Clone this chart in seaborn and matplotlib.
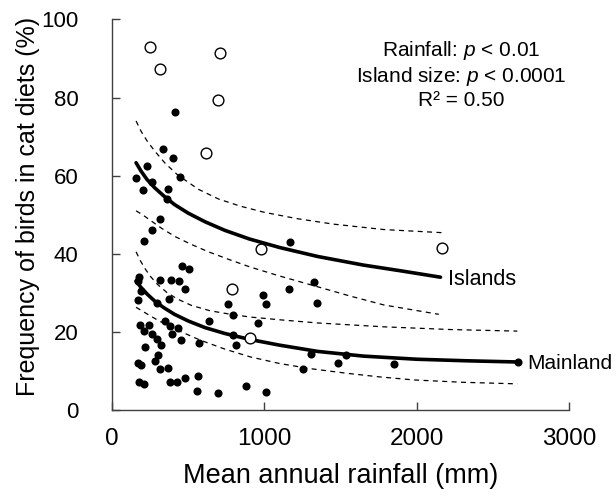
import pandas as pd
import seaborn as sns
import matplotlib.pyplot as plt

# points
mainland_x = [412, 333, 399, 228, 158, 445, 261, 204, 366, 364, 318, 261, 210, 1167,
              458, 506, 180, 169, 318, 390, 442, 480, 191, 1163, 990, 173, 375, 298,
              1010, 762, 797, 635, 959, 348, 186, 241, 381, 432, 210, 265, 392, 293,
              453, 322, 569, 797, 815, 217, 304, 283, 169, 193, 313, 370, 565, 477,
              381, 427, 177, 212, 558, 694, 878, 1012, 1327, 1345, 1305, 1535, 1485,
              1848, 1250, 2663]
mainland_y = [76.2, 66.8, 64.5, 62.5, 59.5, 59.6, 58.4, 56.2, 56.6, 53.9, 48.9, 46.1,
              43.2, 43.0, 36.8, 36.0, 34.1, 33.0, 33.4, 33.4, 33.1, 31.1, 30.5, 31.1,
              29.5, 28.2, 28.4, 27.4, 27.1, 27.1, 24.2, 22.9, 22.3, 22.7, 21.8, 21.8,
              21.6, 21.1, 20.2, 19.5, 19.5, 18.3, 17.8, 16.7, 17.2, 19.3, 16.6, 16.1,
              14.2, 12.6, 12.1, 11.5, 10.6, 10.8, 8.6, 8.3, 7.2, 7.1, 7.3, 6.7, 4.9,
              4.3, 6.1, 4.5, 32.8, 27.3, 14.3, 14.0, 12.1, 11.8, 10.6, 12.4]

island_x = [250, 709, 315, 697, 618, 975, 788, 907, 2162]
island_y = [92.9, 91.5, 87.2, 79.3, 65.7, 41.2, 31.1, 18.4, 41.5]

# fitted curves and confidence bands
isl_fit_x = [158, 190, 230, 280, 340, 410, 500, 610, 740, 900, 1100, 1350, 1650, 1900, 2155]
isl_fit_y = [63.3, 61.2, 59.0, 56.9, 54.8, 52.6, 50.4, 48.2, 46.0, 43.8, 41.6, 39.3, 37.1, 35.6, 34.0]
isl_hi_x = [158, 190, 230, 280, 348, 430, 567, 700, 841, 1000, 1213, 1450, 1783, 2166]
isl_hi_y = [74.0, 71.4, 68.9, 66.3, 63.2, 60.2, 56.5, 54.0, 52.2, 50.6, 49.0, 47.6, 46.2, 45.4]
isl_lo_x = [158, 200, 261, 330, 414, 520, 633, 770, 907, 1100, 1345, 1560, 1783, 2144]
isl_lo_y = [51.0, 50.0, 48.3, 46.4, 44.4, 42.4, 40.5, 38.5, 36.6, 34.3, 31.6, 29.2, 26.9, 24.5]

main_fit_x = [158, 190, 230, 280, 340, 410, 500, 610, 740, 900, 1100, 1350, 1650, 2000, 2330, 2659]
main_fit_y = [33.0, 31.4, 29.7, 27.9, 26.2, 24.5, 22.8, 21.1, 19.6, 18.1, 16.6, 15.0, 13.8, 13.0, 12.6, 12.3]
main_hi_x = [158, 185, 215, 250, 300, 360, 425, 520, 644, 780, 907, 1100, 1345, 1783, 2221, 2659]
main_hi_y = [40.5, 38.3, 36.3, 34.3, 32.1, 30.1, 28.5, 26.8, 25.4, 24.5, 23.8, 23.1, 22.3, 21.3, 20.6, 20.2]
main_lo_x = [158, 230, 300, 359, 450, 578, 740, 907, 1100, 1300, 1542, 1750, 1980, 2300, 2659]
main_lo_y = [26.3, 24.6, 23.0, 21.8, 20.1, 17.9, 15.6, 13.6, 11.9, 10.6, 9.4, 8.5, 7.7, 7.1, 6.7]

x_ticks = [0, 1000, 2000, 3000]
y_ticks = [0, 20, 40, 60, 80, 100]

sns.set_style('ticks')
plt.rcParams['font.family'] = ['Liberation Sans', 'DejaVu Sans']
plt.rcParams['mathtext.fontset'] = 'custom'
plt.rcParams['mathtext.rm'] = 'Liberation Sans'
plt.rcParams['mathtext.it'] = 'Liberation Sans:italic'
plt.rcParams['text.color'] = 'black'
plt.rcParams['axes.labelcolor'] = 'black'

fig = plt.figure(figsize=(6.16, 4.97), dpi=100)
ax = fig.add_axes([0.1818, 0.175, 0.7424, 0.786])

for bx, by in [(isl_hi_x, isl_hi_y), (isl_lo_x, isl_lo_y),
               (main_hi_x, main_hi_y), (main_lo_x, main_lo_y)]:
    sns.lineplot(x=bx, y=by, color='black', lw=0.9, linestyle=(0, (4, 3.5)),
                 estimator=None, sort=False, ax=ax)

for fx, fy in [(isl_fit_x, isl_fit_y), (main_fit_x, main_fit_y)]:
    sns.lineplot(x=fx, y=fy, color='black', lw=2.6, solid_capstyle='round',
                 solid_joinstyle='round', estimator=None, sort=False, ax=ax)

sns.scatterplot(x=mainland_x, y=mainland_y, color='black', s=34, linewidth=0,
                zorder=3, ax=ax)
sns.scatterplot(x=island_x, y=island_y, color='white', edgecolor='black', s=60,
                linewidth=1, zorder=3, ax=ax)

ax.set_xlim(0, 3000)
ax.set_ylim(0, 100)
ax.set_xticks(x_ticks)
ax.set_yticks(y_ticks)
sns.despine(ax=ax)
for sp in ['left', 'bottom']:
    ax.spines[sp].set_color('#404040')
    ax.spines[sp].set_linewidth(1)
ax.tick_params(direction='in', length=6, width=1, color='#404040', labelcolor='black')
ax.tick_params(axis='x', pad=13, labelsize=17.5)
ax.tick_params(axis='y', pad=24, labelsize=16)

ax.set_xlabel('Mean annual rainfall (mm)', fontsize=19.5, labelpad=9)
ax.set_ylabel('Frequency of birds in cat diets (%)', fontsize=18)
ax.yaxis.set_label_coords(-0.157, 0.521)

ax.text(0.763, 0.921, 'Rainfall: $p$ < 0.01', transform=ax.transAxes,
        ha='center', va='center', fontsize=15)
ax.text(0.763, 0.855, 'Island size: $p$ < 0.0001', transform=ax.transAxes,
        ha='center', va='center', fontsize=15)
ax.text(0.763, 0.793, 'R² = 0.50', transform=ax.transAxes,
        ha='center', va='center', fontsize=15)

ax.text(2207, 33.5, 'Islands', ha='left', va='center', fontsize=15.5)
ax.text(2724, 12.0, 'Mainland', ha='left', va='center', fontsize=15)

fig.savefig('out.png', dpi=100)
